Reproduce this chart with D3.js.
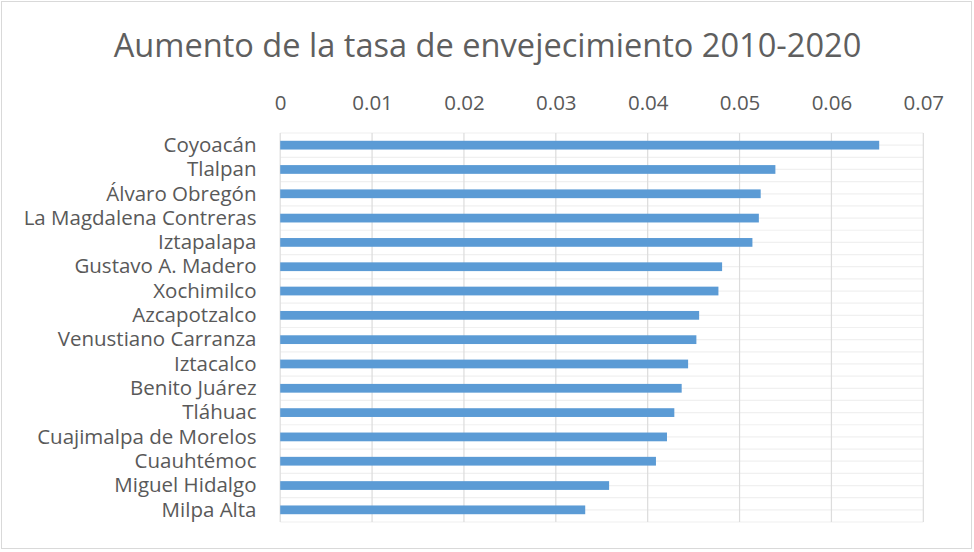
<!DOCTYPE html>
<html><head><meta charset="utf-8">
<script src="https://cdn.jsdelivr.net/npm/d3@7"></script>
<style>body{margin:0;background:#fff}svg text{font-family:"Open Sans",sans-serif;fill:#595959}</style>
</head><body><svg id="c" width="974" height="552"></svg>
<script>
const categories = ["Coyoacán","Tlalpan","Álvaro Obregón","La Magdalena Contreras","Iztapalapa","Gustavo A. Madero","Xochimilco","Azcapotzalco","Venustiano Carranza","Iztacalco","Benito Juárez","Tláhuac","Cuajimalpa de Morelos","Cuauhtémoc","Miguel Hidalgo","Milpa Alta"];
const values = [0.0652,0.0539,0.0523,0.0521,0.0514,0.0481,0.0477,0.0456,0.0453,0.0444,0.0437,0.0429,0.0421,0.0409,0.0358,0.0332];
const tickValues = [0,0.01,0.02,0.03,0.04,0.05,0.06,0.07];
const tickLabels = ["0","0.01","0.02","0.03","0.04","0.05","0.06","0.07"];
const title = "Aumento de la tasa de envejecimiento 2010-2020";

const svg = d3.select("#c");
svg.append("rect").attr("x",1.5).attr("y",1.5).attr("width",970).attr("height",547)
  .attr("fill","#fff").attr("stroke","#d9d9d9").attr("stroke-width",1);

const L=280.2, R=923.3, T=133, B=522;
const x = d3.scaleLinear().domain([0,0.07]).range([L,R]);
const y = d3.scaleBand().domain(categories).range([T,B]).paddingInner(0.64).paddingOuter(0.32);

const step = (B-T)/categories.length;
const hl = d3.range(0, categories.length*2+1).map(i => T + i*step/2);
svg.append("g").selectAll("line").data(hl).join("line")
  .attr("x1",L).attr("x2",R).attr("y1",d=>d).attr("y2",d=>d)
  .attr("stroke","#f0f0f0").attr("stroke-width",1.2);
svg.append("g").selectAll("line").data(tickValues).join("line")
  .attr("x1",d=>x(d)).attr("x2",d=>x(d)).attr("y1",T).attr("y2",B)
  .attr("stroke","#dcdcdc").attr("stroke-width",1.2);

svg.append("g").selectAll("rect").data(categories).join("rect")
  .attr("x",L).attr("y",d=>y(d)).attr("height",y.bandwidth())
  .attr("width",(d,i)=>x(values[i])-L).attr("fill","#5b9bd5");

const ax = d3.axisTop(x).tickValues(tickValues).tickFormat((d,i)=>tickLabels[i]).tickSize(0).tickPadding(0);
const gA = svg.append("g").attr("transform",`translate(0,${110})`).call(ax);
gA.select(".domain").remove();
gA.selectAll("text").attr("font-size",20.5).attr("dy",0).style("fill","#595959").attr("font-family","Open Sans, sans-serif");

const ay = d3.axisLeft(y).tickSize(0).tickPadding(0);
const gY = svg.append("g").attr("transform",`translate(256.5,0)`).call(ay);
gY.select(".domain").remove();
gY.selectAll("text").attr("font-size",20.5).attr("dy","0.33em").style("fill","#595959").attr("font-family","Open Sans, sans-serif");

svg.append("text").attr("x",487.5).attr("y",57).attr("text-anchor","middle")
  .attr("font-size",32.6).attr("font-weight",400).style("fill","#5f5f5f").text(title);
</script></body></html>
